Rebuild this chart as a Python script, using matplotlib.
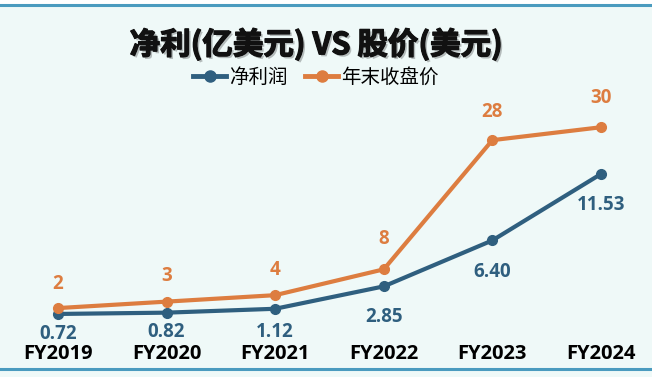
import matplotlib.pyplot as plt
import matplotlib.patheffects as pe
from matplotlib.lines import Line2D

plt.rcParams['font.family'] = ['Noto Sans CJK SC', 'DejaVu Sans']
NUM_FONT = ['Open Sans', 'Noto Sans CJK SC', 'DejaVu Sans']

years = ['FY2019', 'FY2020', 'FY2021', 'FY2022', 'FY2023', 'FY2024']
profit = [0.72, 0.82, 1.12, 2.85, 6.40, 11.53]
price = [2, 3, 4, 8, 28, 30]
profit_off = [-20, -19, -23, -31, -32, -31]   # label offsets in px
price_off = [24, 26, 25, 30, 28, 29]

blue = '#2f5f7f'
orange = '#dd7d40'
bg = '#eff9f8'

fig = plt.figure(figsize=(6.52, 3.77), dpi=100, facecolor='white')
ax = fig.add_axes([0, 0, 1, 1])
ax.set_facecolor(bg)
ax2 = ax.twinx()
x = list(range(len(years)))

ax.plot(x, profit, color=blue, lw=3, marker='o', ms=7, zorder=3)
ax2.plot(x, price, color=orange, lw=3, marker='o', ms=7, zorder=3)

ax.set_xlim(-0.534, 5.47)
ax.set_ylim(-4.15, 24.97)
ax2.set_ylim(-8.67, 49.7)

for i, v in enumerate(profit):
    ax.annotate(f'{v:.2f}', (i, v), xytext=(0, profit_off[i] * 0.72), textcoords='offset points',
                ha='center', va='center', color=blue, fontsize=13.5, fontweight='bold', family=NUM_FONT)
for i, v in enumerate(price):
    ax2.annotate(str(v), (i, v), xytext=(0, price_off[i] * 0.72), textcoords='offset points',
                 ha='center', va='center', color=orange, fontsize=13.5, fontweight='bold', family=NUM_FONT)

for i, lab in enumerate(years):
    ax.text(i, -2.35, lab, ha='center', va='center', fontsize=14.5, fontweight='bold',
            color='black', family=NUM_FONT)

for a in (ax, ax2):
    a.set_xticks([])
    a.set_yticks([])
    for s in a.spines.values():
        s.set_visible(False)

# white strip above the top rule
fig.patches.append(plt.Rectangle((0, 372 / 377), 1, 1, transform=fig.transFigure, color='white', zorder=0))
for yp in (372, 8):
    fig.add_artist(Line2D([0, 1], [yp / 377, yp / 377], color='#4a9bbf', lw=2.2))

t = fig.text(316 / 652, 1 - 45 / 377, '净利(亿美元) VS 股价(美元)', ha='center', va='center',
             fontsize=22, fontweight='bold', color='#111111')
t.set_path_effects([pe.withSimplePatchShadow(offset=(1.5, -1.5), alpha=0.25),
                    pe.Stroke(linewidth=0.9, foreground='#111111'), pe.Normal()])

handles = [Line2D([], [], color=blue, lw=3.5, marker='o', ms=8),
           Line2D([], [], color=orange, lw=3.5, marker='o', ms=8)]
fig.legend(handles, ['净利润', '年末收盘价'], loc='center', bbox_to_anchor=(316 / 652, 1 - 77 / 377),
           ncol=2, frameon=False, fontsize=14, handlelength=1.7, columnspacing=0.9, handletextpad=0.15)

fig.savefig('out.png', dpi=100, facecolor='white')
